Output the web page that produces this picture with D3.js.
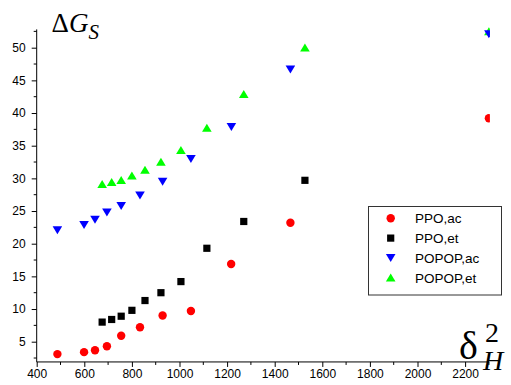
<!DOCTYPE html>
<html><head><meta charset="utf-8">
<script src="https://cdn.jsdelivr.net/npm/d3@7"></script>
<style>
body{margin:0;background:#fff;}
svg{display:block;}
.tick text{font-family:"Liberation Sans",Arial,sans-serif;font-size:12px;fill:#000;}
</style></head>
<body><svg id="c" width="511" height="385"></svg>
<script>
const seriesNames = ["PPO,ac", "PPO,et", "POPOP,ac", "POPOP,et"];
const ppoAcX = [487, 599, 645, 695, 755, 834, 929, 1048, 1217, 1466, 2300];
const ppoAcY = [3.1, 3.4, 3.7, 4.3, 5.9, 7.2, 9.0, 9.7, 16.9, 23.2, 39.2];
const ppoEtX = [675, 715, 755, 800, 855, 922, 1006, 1115, 1270, 1527];
const ppoEtY = [8.0, 8.4, 8.9, 9.8, 11.3, 12.5, 14.2, 19.3, 23.4, 29.7];
const popopAcX = [487, 599, 645, 695, 755, 834, 929, 1048, 1218, 1466, 2300];
const popopAcY = [22.1, 22.9, 23.7, 24.8, 25.8, 27.4, 29.5, 33.0, 37.9, 46.7, 52.1];
const popopEtX = [675, 715, 755, 800, 855, 922, 1006, 1115, 1270, 1527, 2300];
const popopEtY = [29.1, 29.4, 29.7, 30.4, 31.3, 32.5, 34.3, 37.7, 42.9, 50.0, 52.5];
const xTicks = [400, 600, 800, 1000, 1200, 1400, 1600, 1800, 2000, 2200];
const yTicks = [5, 10, 15, 20, 25, 30, 35, 40, 45, 50];
const colors = ["#ff0000", "#000000", "#0000ff", "#00ff00"];

const svg = d3.select("#c");
const x = d3.scaleLinear().domain([400, 2300]).range([36.7, 488.9]);
const y = d3.scaleLinear().domain([1.9, 52.8]).range([361.95, 29.4]);

const xMinor = d3.range(400, 2301, 100).filter(v => v % 200 !== 0);
const yMinor = d3.range(2.5, 52.6, 5);

const gx = svg.append("g").attr("transform", `translate(0,${y(1.9)})`);
gx.call(d3.axisBottom(x).tickValues(xTicks).tickFormat(d3.format("d")).tickSize(5).tickPadding(3))
  .call(g => g.select(".domain").attr("stroke", "#000").attr("d", `M${x(400)},0H${x(2300)}`));
gx.selectAll(".minor").data(xMinor).enter().append("line").attr("class","minor")
  .attr("x1", d => x(d)).attr("x2", d => x(d)).attr("y1", 0).attr("y2", 3).attr("stroke", "#000");

const gy = svg.append("g").attr("transform", `translate(${x(400)},0)`);
gy.call(d3.axisLeft(y).tickValues(yTicks).tickSize(5).tickPadding(6))
  .call(g => g.select(".domain").attr("stroke", "#000").attr("d", `M0,${y(1.9)}V${y(52.8)}`));
gy.selectAll(".minor").data(yMinor).enter().append("line").attr("class","minor")
  .attr("y1", d => y(d)).attr("y2", d => y(d)).attr("x1", 0).attr("x2", -3).attr("stroke", "#000");

svg.append("clipPath").attr("id", "clip").append("rect")
  .attr("x", x(400)).attr("y", 0).attr("width", x(2300) - x(400) + 1).attr("height", 385);

const plot = svg.append("g").attr("clip-path", "url(#clip)");

const shapes = {
  circle: (g, c) => g.append("circle").attr("r", 4.2).attr("fill", c),
  square: (g, c) => g.append("rect").attr("x", -3.6).attr("y", -3.6).attr("width", 7.2).attr("height", 7.2).attr("fill", c),
  down: (g, c) => g.append("path").attr("d", "M-4.8,-3.8L4.8,-3.8L0,4.2Z").attr("fill", c),
  up: (g, c) => g.append("path").attr("d", "M0,-4.2L4.8,3.8L-4.8,3.8Z").attr("fill", c)
};
const shapeKeys = ["circle", "square", "down", "up"];
const series = [
  {xs: ppoAcX, ys: ppoAcY, i: 0},
  {xs: ppoEtX, ys: ppoEtY, i: 1},
  {xs: popopEtX, ys: popopEtY, i: 3},
  {xs: popopAcX, ys: popopAcY, i: 2}
];
series.forEach(s => {
  s.xs.forEach((xv, k) => {
    const g = plot.append("g").attr("transform", `translate(${x(xv)},${y(s.ys[k])})`);
    shapes[shapeKeys[s.i]](g, colors[s.i]);
  });
});

// legend
const lg = svg.append("g");
lg.append("rect").attr("x", 368.5).attr("y", 206.5).attr("width", 133).attr("height", 88.5)
  .attr("fill", "#fff").attr("stroke", "#333").attr("stroke-width", 1);
seriesNames.forEach((n, i) => {
  const cy = 218.3 + i * 19.8;
  const g = lg.append("g").attr("transform", `translate(390.7,${cy})`);
  shapes[shapeKeys[i]](g, colors[i]);
  lg.append("text").attr("x", 415).attr("y", cy + 5).text(n)
    .attr("font-family", "'Liberation Sans',Arial,sans-serif").attr("font-size", 13.5).attr("fill", "#000");
});

// axis titles
const serif = "'Liberation Serif','Times New Roman',serif";
const t1 = svg.append("text").attr("x", 51.5).attr("y", 32)
  .attr("font-family", serif).attr("font-size", 27).attr("fill", "#000");
t1.append("tspan").text("Δ");
t1.append("tspan").attr("font-style", "italic").text("G");
t1.append("tspan").attr("font-style", "italic").attr("font-size", 21).attr("dy", 7).text("S");

svg.append("text").attr("x", 459).attr("y", 359).attr("font-family", serif)
  .attr("font-size", 40).attr("fill", "#000").text("δ");
svg.append("text").attr("x", 485).attr("y", 342).attr("font-family", serif)
  .attr("font-size", 28).attr("fill", "#000").text("2");
svg.append("text").attr("x", 483).attr("y", 370).attr("font-family", serif).attr("font-style", "italic")
  .attr("font-size", 28).attr("fill", "#000").text("H");
</script></body></html>
